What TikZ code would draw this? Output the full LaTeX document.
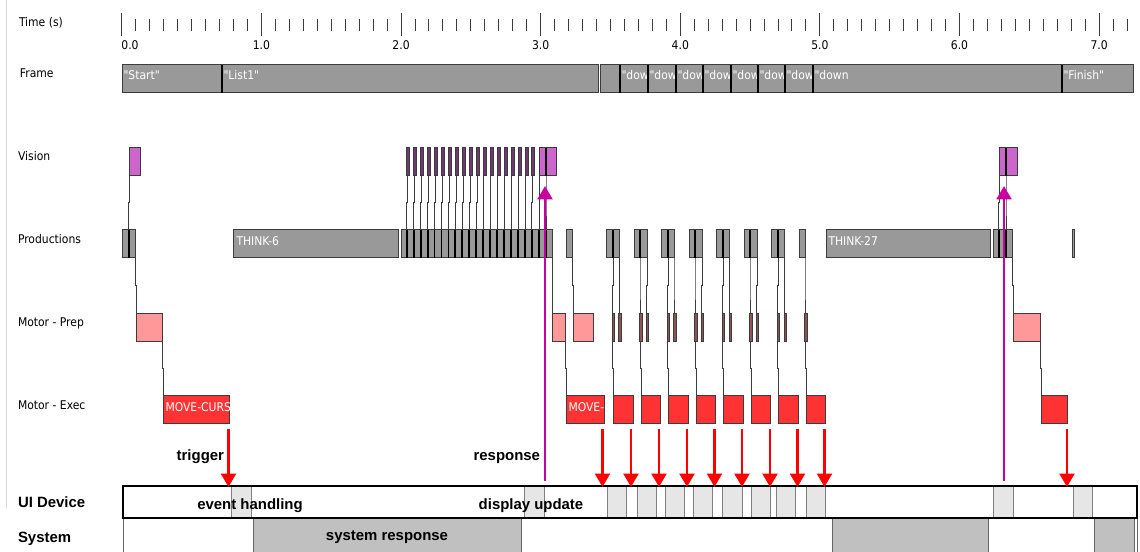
\documentclass[tikz,border=0pt]{standalone}
\usepackage{fontspec}
\setmainfont{Liberation Sans}
\newfontfamily\tracefont{DejaVu Sans Condensed}
\usepackage{xcolor}
\usepackage{tikz}
\usetikzlibrary{arrows.meta}

\definecolor{boxline}{HTML}{3C3C3C}
\definecolor{framegray}{HTML}{999999}
\definecolor{visfill}{HTML}{CC66CC}
\definecolor{prepfill}{HTML}{FF9999}
\definecolor{execfill}{HTML}{FF3333}
\definecolor{magarrow}{RGB}{200,0,160}
\definecolor{cellgray}{HTML}{E6E6E6}
\definecolor{sysgray}{HTML}{C0C0C0}

\begin{document}
\begin{tikzpicture}[x=0.75pt, y=-0.75pt,
    every node/.style={inner sep=0pt, outer sep=0pt},
    rowlab/.style={font=\tracefont\fontsize{9}{10}\selectfont, anchor=base west},
    intext/.style={font=\tracefont\fontsize{9}{10}\selectfont, text=white, anchor=base west},
    biglab/.style={font=\bfseries\fontsize{11.2}{13}\selectfont, anchor=base},
    gbox/.style={draw=boxline, fill=framegray, line width=0.75pt},
    vbox/.style={draw=boxline, fill=visfill, line width=0.75pt},
    pbox/.style={draw=boxline, fill=prepfill, line width=0.75pt},
    ebox/.style={draw=boxline, fill=execfill, line width=0.75pt},
    divider/.style={black, line width=1.4pt},
    dep/.style={boxline, line width=0.75pt},
    tick/.style={boxline, line width=0.75pt},
    redarr/.style={red, line width=2.2pt, -{Triangle[length=10pt,width=11pt]}},
    magarr/.style={magarrow, line width=2.2pt, -{Triangle[length=10pt,width=11pt]}},
    cell/.style={draw=gray, fill=cellgray, line width=0.75pt},
    sysbox/.style={draw=black!60, fill=sysgray, line width=0.75pt}]
  \path[use as bounding box, fill=white] (0,0) rectangle (1140,552);
  \draw[black!15, line width=0.75pt] (6,0) -- (6,508);

  % row labels
  \node[rowlab] (timelab) at (19,27) {Time (s)};
  \node[rowlab] (framelab) at (20,78) {Frame};
  \node[rowlab] (vislab) at (18,160.5) {Vision};
  \node[rowlab] (prodlab) at (18,243.5) {Productions};
  \node[rowlab] (preplab) at (18,326.5) {Motor - Prep};
  \node[rowlab] (execlab) at (18,409.5) {Motor - Exec};

  % time axis
  \foreach \i in {0,...,72}
    \draw[tick] (121.8+13.962*\i,19) -- (121.8+13.962*\i,31);
  \foreach \s in {0,...,7} {
    \draw[tick] (121.8+139.62*\s,13) -- (121.8+139.62*\s,36);
    \ifnum\s=0
      \node[rowlab, anchor=base] (sec\s) at (130,49.5) {\s.0};
    \else
      \node[rowlab, anchor=base] (sec\s) at (121.8+139.62*\s,49.5) {\s.0};
    \fi
  }

  % frames
  \foreach \a/\b/\t [count=\n] in {122/222/"Start", 222/598/"List1", 600/620/{}, 620/648/"dow,
      648/676/"dow, 676/703/"dow, 703/731/"dow, 731/758/"dow, 758/785/"dow,
      785/813/"dow, 813/1062/"down, 1062/1133/"Finish"} {
    \draw[gbox] (\a,65) rectangle (\b,93);
    \begin{scope}
      \clip (\a,65) rectangle (\b,93);
      \node[intext] (fr\n) at (\a+1.5,80) {\t};
    \end{scope}
  }
  \foreach \x in {222,620,648,676,703,731,758,785,813,1062}
    \draw[divider] (\x,65) -- (\x,93);

  % vision
  \draw[vbox] (129,148) rectangle (140,176);
  \foreach \k in {0,...,18}
    \draw[vbox, fill=visfill!55!black] (406.7+6.96*\k,148) rectangle (409.7+6.96*\k,176);
  \draw[vbox] (539,148) rectangle (556,176);
  \draw[divider] (546,148) -- (546,176);
  \draw[vbox] (999,148) rectangle (1017,176);
  \draw[divider] (1006,148) -- (1006,176);

  % productions
  \draw[gbox] (122,230) rectangle (135,258);
  \draw[divider] (129,230) -- (129,258);
  \draw[gbox] (233,230) rectangle (398,258);
  \node[intext] (think6) at (236.5,246) {THINK-6};
  \draw[gbox] (401,230) rectangle (552,258);
  \foreach \k in {0,...,20}
    \draw[divider] (406.7+6.96*\k,230) -- (406.7+6.96*\k,258);
  \draw[gbox] (566,230) rectangle (572,258);
  \foreach \a/\m/\b in {606/613/619, 634/640/647, 661/668/674, 689/695/702,
      716/723/729, 744/750/757, 771/778/784} {
    \draw[gbox] (\a,230) rectangle (\b,258);
    \draw[divider] (\m,230) -- (\m,258);
  }
  \draw[gbox] (799,230) rectangle (805,258);
  \draw[gbox] (826,230) rectangle (990,258);
  \node[intext] (think27) at (828.5,246) {THINK-27};
  \draw[gbox] (993,230) rectangle (1012,258);
  \draw[divider] (999,230) -- (999,258);
  \draw[divider] (1006,230) -- (1006,258);
  \draw[gbox] (1072,230) rectangle (1074.5,258);

  % motor prep
  \foreach \a/\b in {136/162, 552/565, 573/593, 1013/1040}
    \draw[pbox] (\a,314) rectangle (\b,342);
  \foreach \x in {612,618.5,639.5,646,667,673.5,694.5,701,722,729,749.5,756,777,784,804.5}
    \draw[pbox, fill=prepfill!55!black] (\x,314) rectangle (\x+2.7,342);

  % motor exec
  \foreach \a/\b/\t [count=\n] in {163/229/MOVE-CURS, 566/604/MOVE-, 613/633/{},
      641/660/{}, 668/688/{}, 696/715/{}, 723/743/{}, 751/770/{}, 778/798/{},
      806/825/{}, 1041/1067/{}} {
    \draw[ebox] (\a,396) rectangle (\b,424);
    \begin{scope}
      \clip (\a,396) rectangle (\b,424);
      \node[intext] (ex\n) at (\a+2.5,411.5) {\t};
    \end{scope}
  }

  % dependency lines
  \foreach \a/\b in {129.5/128.5, 539.5/539.5, 546/546, 999.5/998.5, 1006/1006}
    \draw[dep] (\a,176) -- (\a,203) -- (\b,203) -- (\b,230);
  \foreach \k in {0,...,18}
    \draw[dep] (407.4+6.96*\k,176) -- (407.4+6.96*\k,203) -- (406.7+6.96*\k,203) -- (406.7+6.96*\k,230);
  \foreach \a/\b in {135/136.5, 552/552.5, 572/573.5, 613/612.5, 619/619.5, 640/640,
      647/646.5, 668/667.5, 674/674, 695/695, 702/701.5, 723/722.5, 729/729.5,
      750/750, 757/756.5, 778/777.5, 784/784.5, 805/805, 1012/1013.5}
    \draw[dep] (\a,258) -- (\a,286) -- (\b,286) -- (\b,314);
  \foreach \a/\b in {162/163.5, 565/566, 612.5/613.5, 640/641, 667.5/668.5, 695/696,
      722.5/723.5, 750/751, 777.5/778.5, 805/806, 1040/1041}
    \draw[dep] (\a,342) -- (\a,369) -- (\b,369) -- (\b,396);

  % UI device and system rows
  \draw[black!60, line width=0.75pt] (123,518) rectangle (1137,556);
  \foreach \a/\b in {253/521, 832/988, 1094/1134}
    \draw[sysbox] (\a,518) rectangle (\b,556);
  \foreach \a/\b in {231/251, 524/544, 607/626, 637/656, 665/684, 693/712,
      722/742, 751/770, 776/795, 806/825, 993/1013, 1073/1092}
    \draw[cell] (\a,486) rectangle (\b,518);
  \draw[black, line width=1.2pt] (123,486) rectangle (1137,518);

  % arrows
  \foreach \x in {228.5,602.5,631,659,687,714.5,742,770,797.5,824.5,1067}
    \draw[redarr] (\x,429) -- (\x,487);
  \foreach \x in {545,1004}
    \draw[magarr] (\x,481) -- (\x,186);

  % labels
  \node[biglab, anchor=base east] (trig) at (224,460) {trigger};
  \node[biglab, anchor=base east] (resp) at (540,460) {response};
  \node[biglab] (evhand) at (250,509.5) {event handling};
  \node[biglab] (dispup) at (531,509.5) {display update};
  \node[biglab] (sysresp) at (387,540.5) {system response};
  \node[biglab, anchor=base west] (uidev) at (18,507.5) {UI Device};
  \node[biglab, anchor=base west] (syslab) at (18,542.5) {System};
\end{tikzpicture}
\end{document}
